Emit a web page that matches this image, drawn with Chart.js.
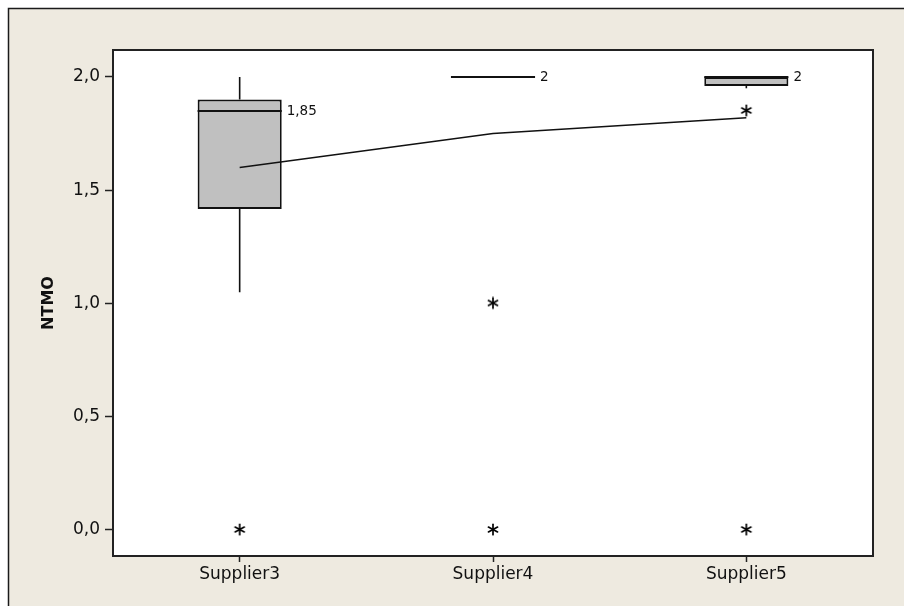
<!DOCTYPE html>
<html>
<head>
<meta charset="utf-8">
<script src="https://cdn.jsdelivr.net/npm/chart.js@4.4.1/dist/chart.umd.min.js"></script>
<style>
  html, body { margin: 0; padding: 0; background: #ffffff; }
  #wrap { position: relative; width: 904px; height: 606px; }
</style>
</head>
<body>
<div id="wrap"><canvas id="boxChart" width="904" height="606"></canvas></div>
<script>
// Box plot data
const suppliers = ["Supplier3", "Supplier4", "Supplier5"];
const whiskerLow = [1.05, 2.0, 1.95];
const q1 = [1.4167, 2.0, 1.96];
const median = [1.85, 2.0, 2.0];
const q3 = [1.9, 2.0, 2.0];
const whiskerHigh = [2.0, 2.0, 2.0];
const means = [1.6, 1.75, 1.82];
const medianLabels = ["1,85", "2", "2"];

// Outliers (asterisks)
const outlierCat = ["Supplier3", "Supplier4", "Supplier4", "Supplier5", "Supplier5"];
const outlierVal = [0, 1.0, 0, 1.85, 0];

const yTicks = [0, 0.5, 1.0, 1.5, 2.0];

const FONT = "'DejaVu Sans', Verdana, sans-serif";
const INK = "#111111";

// Asterisk marker drawn once on a small canvas
function makeAsterisk() {
  const c = document.createElement("canvas");
  c.width = 14; c.height = 14;
  const g = c.getContext("2d");
  g.strokeStyle = "#000000";
  g.lineWidth = 1.7;
  g.lineCap = "round";
  const r = 5.2;
  for (const a of [90, 28, 152]) {
    const t = a * Math.PI / 180;
    g.beginPath();
    g.moveTo(7 - r * Math.cos(t), 6.5 - r * Math.sin(t));
    g.lineTo(7 + r * Math.cos(t), 6.5 + r * Math.sin(t));
    g.stroke();
  }
  return c;
}

// Background, frame and plot box
const framePlugin = {
  id: "frame",
  beforeDraw(chart) {
    const ctx = chart.ctx;
    const a = chart.chartArea;
    ctx.save();
    ctx.fillStyle = "#ffffff";
    ctx.fillRect(0, 0, chart.width, chart.height);
    ctx.fillStyle = "#EEEAE0";
    ctx.fillRect(8, 8, chart.width - 8, chart.height - 8);
    ctx.strokeStyle = "#1a1a1a";
    ctx.lineWidth = 1.5;
    ctx.beginPath();
    ctx.moveTo(8.5, chart.height);
    ctx.lineTo(8.5, 8.5);
    ctx.lineTo(chart.width, 8.5);
    ctx.stroke();
    ctx.fillStyle = "#ffffff";
    ctx.fillRect(a.left, a.top, a.right - a.left, a.bottom - a.top);
    ctx.restore();
  },
  afterDraw(chart) {
    const ctx = chart.ctx;
    const a = chart.chartArea;
    ctx.save();
    ctx.strokeStyle = "#222222";
    ctx.lineWidth = 2;
    ctx.strokeRect(a.left, a.top, a.right - a.left, a.bottom - a.top);
    ctx.restore();
  }
};

// Whiskers, medians and median labels
const boxPlugin = {
  id: "boxParts",
  afterDatasetDraw(chart, args) {
    if (args.index !== 0) return;
    const ctx = chart.ctx;
    const y = chart.scales.y;
    const meta = chart.getDatasetMeta(0);
    ctx.save();
    ctx.strokeStyle = INK;
    meta.data.forEach((bar, i) => {
      const cx = bar.x;
      const half = bar.width / 2;
      // whiskers
      ctx.lineWidth = 1.6;
      ctx.beginPath();
      ctx.moveTo(cx, y.getPixelForValue(q3[i]));
      ctx.lineTo(cx, y.getPixelForValue(whiskerHigh[i]));
      ctx.moveTo(cx, y.getPixelForValue(q1[i]));
      ctx.lineTo(cx, y.getPixelForValue(whiskerLow[i]));
      ctx.stroke();
      // median
      const my = y.getPixelForValue(median[i]);
      ctx.lineWidth = 2;
      ctx.beginPath();
      ctx.moveTo(cx - half, my);
      ctx.lineTo(cx + half, my);
      ctx.stroke();
      // label
      ctx.fillStyle = INK;
      ctx.font = "13.5px " + FONT;
      ctx.textBaseline = "middle";
      ctx.textAlign = "left";
      ctx.fillText(medianLabels[i], cx + half + 5, my + 1);
    });
    ctx.restore();
  }
};

const ctx = document.getElementById("boxChart").getContext("2d");

new Chart(ctx, {
  type: "bar",
  data: {
    labels: suppliers,
    datasets: [
      {
        label: "IQR box",
        data: q1.map((v, i) => [v, q3[i]]),
        backgroundColor: "#C0C0C0",
        borderColor: INK,
        borderWidth: 2,
        borderSkipped: false,
        categoryPercentage: 1,
        barPercentage: 0.332,
        order: 3
      },
      {
        type: "line",
        label: "Mean",
        data: means,
        borderColor: INK,
        borderWidth: 1.5,
        pointRadius: 0,
        fill: false,
        order: 2
      },
      {
        type: "line",
        label: "Outliers",
        data: outlierCat.map((c, i) => ({ x: c, y: outlierVal[i] })),
        showLine: false,
        pointStyle: makeAsterisk(),
        pointRadius: 7,
        order: 1
      }
    ]
  },
  options: {
    responsive: false,
    animation: false,
    devicePixelRatio: 1,
    layout: { padding: { top: 50, right: 31, bottom: 0, left: 0 } },
    plugins: {
      legend: { display: false },
      tooltip: { enabled: false }
    },
    scales: {
      x: {
        offset: true,
        grid: {
          display: true,
          offset: false,
          drawOnChartArea: false,
          drawTicks: true,
          tickLength: 6,
          tickColor: "#222222",
          tickWidth: 1.5
        },
        border: { display: false },
        ticks: { color: INK, padding: 2, font: { family: FONT, size: 17 } },
        afterFit(scale) { scale.height = 50; }
      },
      y: {
        min: -0.115,
        max: 2.119,
        afterBuildTicks(scale) { scale.ticks = yTicks.map(v => ({ value: v })); },
        grid: {
          display: true,
          drawOnChartArea: false,
          drawTicks: true,
          tickLength: 8,
          tickColor: "#222222",
          tickWidth: 1.5
        },
        border: { display: false },
        ticks: {
          color: INK,
          padding: 5,
          font: { family: FONT, size: 17 },
          callback: v => v.toFixed(1).replace(".", ",")
        },
        title: {
          display: true,
          text: "NTMO",
          color: INK,
          font: { family: FONT, size: 16, weight: "bold" },
          padding: { top: 39, bottom: 0 }
        },
        afterFit(scale) { scale.width = 113; }
      }
    }
  },
  plugins: [framePlugin, boxPlugin]
});
</script>
</body>
</html>
